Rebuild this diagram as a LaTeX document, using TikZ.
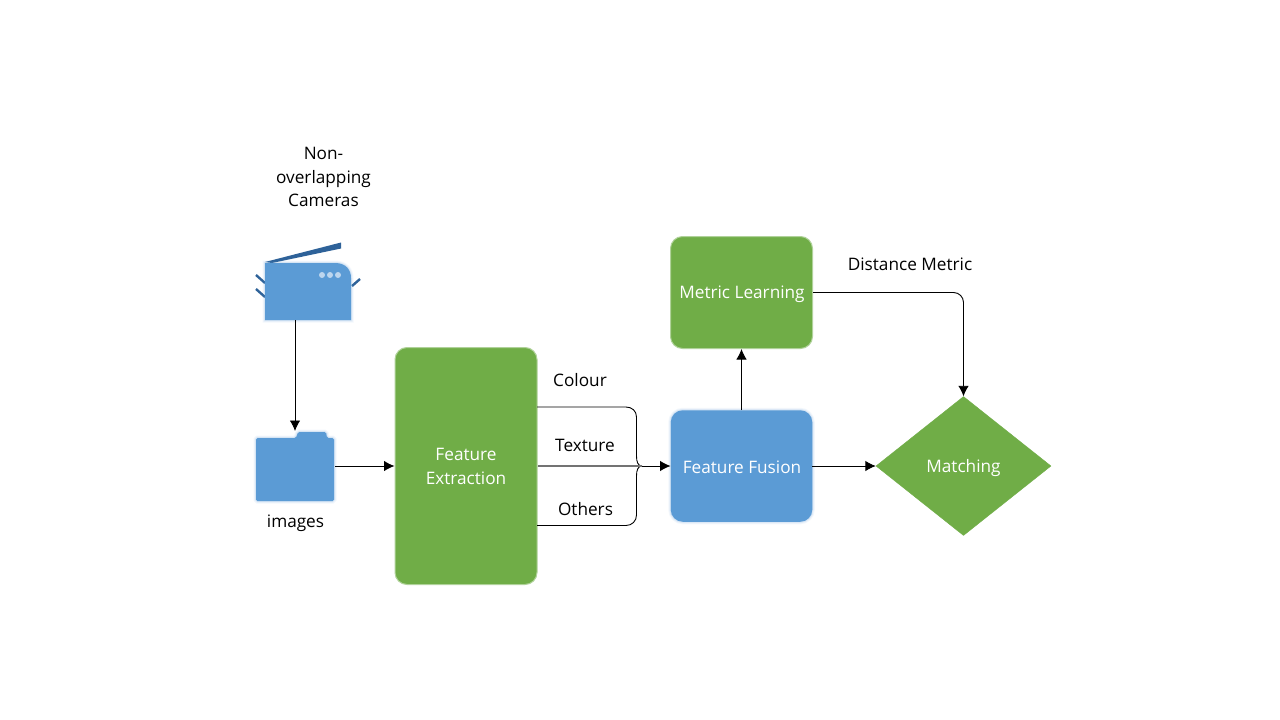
\documentclass[tikz,border=0pt]{standalone}
\usepackage{fontspec}
\setmainfont{Open Sans}
\usetikzlibrary{arrows.meta,shapes.geometric}
\definecolor{gr}{HTML}{70AD47}
\definecolor{bl}{HTML}{5B9BD5}
\definecolor{dbl}{HTML}{2E6299}
\definecolor{glow}{HTML}{D5E5F4}
\tikzset{
 x=1pt,y=-1pt,
 txt/.style={font=\fontsize{17.2}{23.5}\selectfont,text=black,align=center,inner sep=0pt},
 wtxt/.style={txt,text=white},
 softglow/.style={preaction={draw=bl,opacity=.07,line width=5pt},preaction={draw=bl,opacity=.10,line width=3pt},preaction={draw=bl,opacity=.14,line width=1.4pt}},
 grbox/.style={draw=gr!55!white,line width=1pt,fill=gr,rounded corners=12pt,minimum width=0,inner sep=0},
 blbox/.style={draw=none,fill=bl,rounded corners=12pt,softglow},
 conn/.style={draw=black,line width=0.9pt,-{Latex[length=10.5pt,width=10.5pt]}},
 plain/.style={draw=black,line width=0.9pt},
 greyline/.style={draw=black!55,line width=1.3pt},
 tick/.style={dbl,line width=2.4pt},
 dot/.style={circle,fill=glow!80!bl,inner sep=0,minimum size=6pt},
}
\begin{document}
\begin{tikzpicture}
\useasboundingbox (0,0) rectangle (1280,720);
\fill[white] (0,0) rectangle (1280,720);
% boxes
\node[grbox,minimum width=142pt,minimum height=237pt] (fe) at (466,466) {};
\node[wtxt] at (466,466.5) {Feature\\Extraction};
\node[blbox,minimum width=141.5pt,minimum height=111.5pt] (ff) at (741.5,466) {};
\node[wtxt] at (742,467) {Feature Fusion};
\node[grbox,minimum width=142pt,minimum height=112pt] (ml) at (741.5,292.5) {};
\node[wtxt] at (742,294) {Metric Learning};
\node[diamond,aspect=1.26,fill=gr,draw=gr,inner sep=0,minimum width=175pt,minimum height=139pt] (ma) at (963.5,466) {};
\node[wtxt] at (963.5,468) {Matching};
% camera
\draw[tick] (256,275) -- (265,283);
\draw[tick] (256,289) -- (265,297);
\draw[tick] (352,286) -- (360,279);
\fill[dbl] (265,262) -- (341,242.5) -- (341,248.5) -- (272,263) -- cycle;
\path[fill=bl,softglow] (265,263) -- (335,263) .. controls (346,263) and (351,270) .. (351,278) -- (351,320) -- (265,320) -- cycle;
\coordinate (camb) at (295,320);
\node[dot] (d1) at (322,275) {};
\node[dot] (d2) at (330,275) {};
\node[dot] (d3) at (338,275) {};
% folder
\path[fill=bl,softglow,rounded corners=1.5pt] (256,438) -- (296,438) -- (298,432) -- (326,432) -- (327,438) -- (334,438) -- (334,501) -- (256,501) -- cycle;
\coordinate (foldt) at (295,431);
\coordinate (foldr) at (335,466);
% arrows
\draw[conn] (camb) -- (foldt);
\draw[conn] (foldr) -- (fe.west);
\coordinate (cu) at (537,407);
\coordinate (cl) at (537,525.5);
\coordinate (cj) at (642,466);
\draw[plain] (cu) -- (626,407) .. controls (632,407) and (636.5,411) .. (636.5,417) -- (636.5,456) .. controls (636.5,462) and (638,466) .. (cj);
\draw[plain] (cl) -- (626,525.5) .. controls (632,525.5) and (636.5,521) .. (636.5,515) -- (636.5,476) .. controls (636.5,470) and (638,466) .. (cj);
\draw[conn] (fe.east) -- (ff.west);
\draw[greyline] (fe.east) -- (cj);
\draw[conn] (ff.north) -- (ml.south);
\draw[conn] (ff.east) -- (ma.west);
\draw[conn,rounded corners=10pt] (ml.east) -- (963.5,292.5) -- (ma.north);
% labels
\node[txt] (lc) at (323.5,177) {Non-\\overlapping\\Cameras};
\node[txt] (li) at (295.5,523) {images};
\node[txt] (l1) at (580,380) {Colour};
\node[txt] (l2) at (585,445) {Texture};
\node[txt] (l3) at (585.5,509) {Others};
\node[txt] (l4) at (910,264) {Distance Metric};
\end{tikzpicture}
\end{document}
